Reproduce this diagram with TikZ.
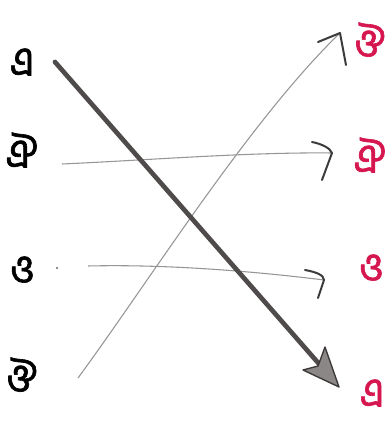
\documentclass[tikz,border=0pt]{standalone}
\usepackage{fontspec}
\newfontfamily\bn[Script=Bengali,FakeBold=1.5]{Hind Siliguri}
\begin{document}
\begin{tikzpicture}[x=0.75pt,y=-0.75pt,
  lt/.style={font=\bn\fontsize{31}{31}\selectfont, text=black, inner sep=0pt},
  rt/.style={font=\bn\fontsize{31}{31}\selectfont, text={rgb,255:red,214;green,23;blue,79}, inner sep=0pt},
  thin/.style={draw={rgb,255:red,150;green,150;blue,150}, line width=0.8pt},
  wing/.style={draw={rgb,255:red,60;green,60;blue,60}, line width=1.5pt, line cap=round, line join=round},
  thick/.style={draw={rgb,255:red,80;green,75;blue,75}, line width=3.5pt, line cap=round}]
\useasboundingbox (0,0) rectangle (387,426);
\fill[white] (0,0) rectangle (387,426);
% left column
\node[lt] (L1) at (22,62) {এ};
\node[lt] (L2) at (22,150) {ঐ};
\node[lt] (L3) at (22,270) {ও};
\node[lt] (L4) at (22,375) {ঔ};
% right column
\node[rt] (R1) at (370,40) {ঔ};
\node[rt] (R2) at (370,155) {ঐ};
\node[rt] (R3) at (371,268) {ও};
\node[rt] (R4) at (372,393) {এ};
% dot
\fill[black!60] (57,268) circle (1.2);
% anchor coordinates
\coordinate (s1) at (55,62);   \coordinate (t1) at (339,387);
\coordinate (s2) at (62,164);  \coordinate (t2) at (332,153);
\coordinate (s3) at (88,266);  \coordinate (t3) at (324,280);
\coordinate (s4) at (78,378);  \coordinate (t4) at (340,33);
% thin arrows
\draw[thin] (s2) .. controls (150,160) and (250,152) .. (t2);
\draw[wing] (312,142) .. controls (322,144) and (330,148) .. (t2) -- (322,180);
\draw[thin] (s3) .. controls (170,264) and (260,272) .. (t3);
\draw[wing] (305,270) .. controls (316,272) and (324,275) .. (t3) -- (318,298);
\draw[thin] (s4) .. controls (150,280) and (250,120) .. (t4);
\draw[wing] (318,42) -- (t4) -- (346,65);
% thick arrow
\draw[thick] (s1) -- (320,365);
\filldraw[draw={rgb,255:red,60;green,55;blue,55}, fill={rgb,255:red,140;green,135;blue,135}, line width=1pt, line join=round]
  (325,347) -- (t1) -- (303,370) -- (318,366) -- cycle;
\end{tikzpicture}
\end{document}
